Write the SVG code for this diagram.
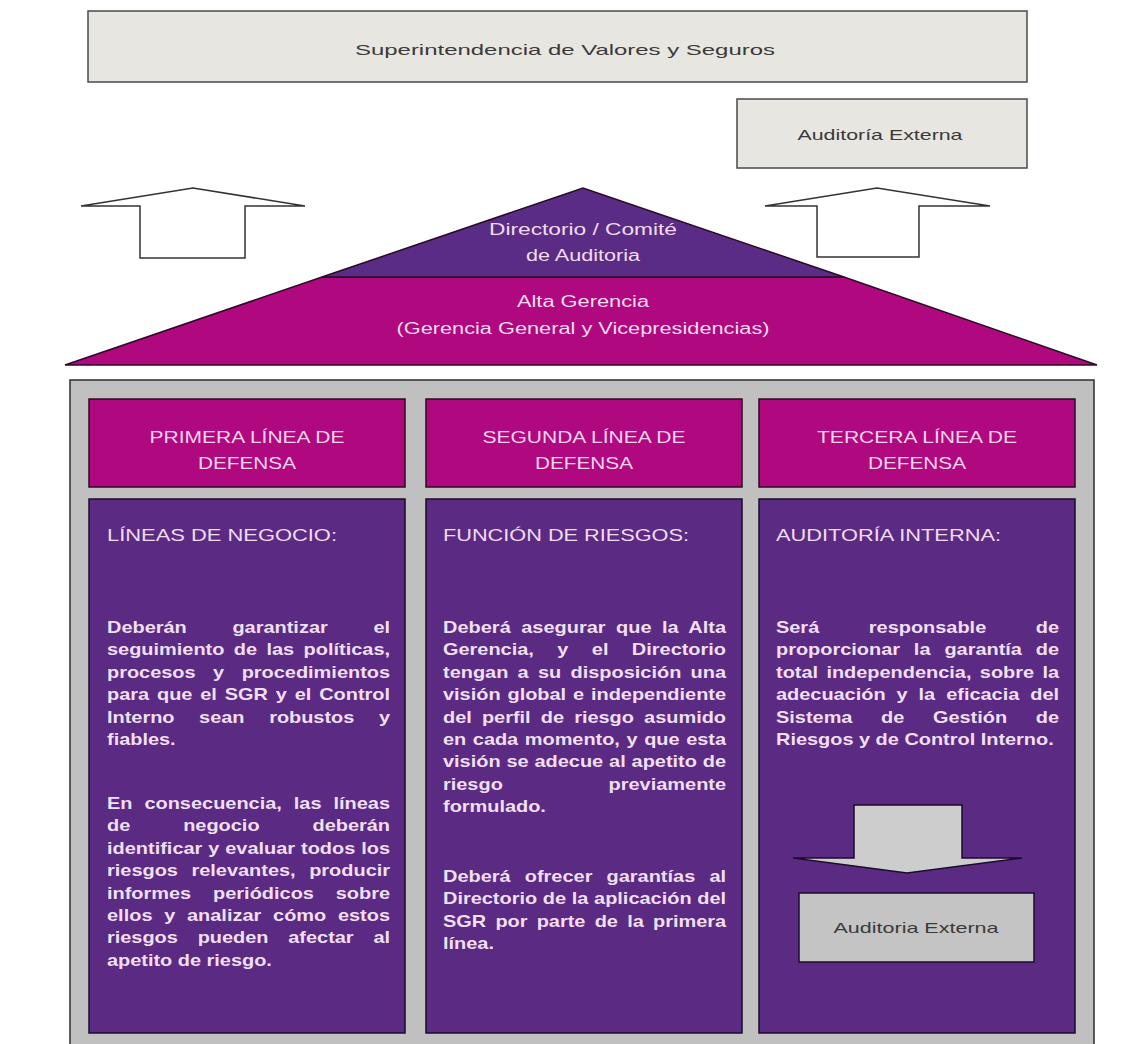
<svg xmlns="http://www.w3.org/2000/svg" width="1133" height="1044" viewBox="0 0 1133 1044">
  <style>
    text { font-family: "Liberation Sans", Arial, sans-serif; }
    .box-light { fill: #e8e6e0; stroke: #4a4a4a; stroke-width: 1.5; }
    .arrow-out { fill: #ffffff; stroke: #333333; stroke-width: 1.5; stroke-linejoin: miter; }
    .dark { fill: #3a3a3a; font-size: 15px; }
    .pyr { fill: #f3dcf0; font-size: 16px; }
    .head { fill: #b0087e; stroke: #2a0a26; stroke-width: 1.5; }
    .body { fill: #5b2b84; stroke: #1c0b2c; stroke-width: 1.5; }
    .head-t { fill: #f7d4ee; font-size: 16.5px; text-anchor: middle; }
    .sub-t { fill: #f1dcf2; font-size: 16.5px; }
    .txt { fill: #f1dff3; font-size: 16.5px; font-weight: bold; }
  </style>

  <rect width="1133" height="1044" fill="#ffffff"/>

  <!-- Regulator box -->
  <g id="superintendencia">
    <rect class="box-light" x="88" y="11" width="939" height="71"/>
    <text class="dark" x="565" y="55" font-size="16.5" text-anchor="middle" textLength="420" lengthAdjust="spacingAndGlyphs">Superintendencia de Valores y Seguros</text>
  </g>

  <!-- External audit box (top) -->
  <g id="auditoria-externa-top">
    <rect class="box-light" x="737" y="99" width="290" height="69"/>
    <text class="dark" x="880" y="140" text-anchor="middle" textLength="165" lengthAdjust="spacingAndGlyphs">Auditoría Externa</text>
  </g>

  <!-- Upward arrows -->
  <g id="connectors">
    <polygon class="arrow-out" points="81,206 193,188 305,206 245,206 245,258 140,258 140,206"/>
    <polygon class="arrow-out" points="765,206 877,188 990,206 919,206 919,257 817,257 817,206"/>
  </g>

  <!-- Governance pyramid -->
  <g id="piramide">
    <polygon points="65,365 322,277 844,277 1097,365" fill="#b0087e" stroke="#2a0a26" stroke-width="1.5"/>
    <polygon points="322,277 583,188 844,277" fill="#5a2c85" stroke="#2a0a26" stroke-width="1.5"/>
    <text class="pyr" x="583" y="235" text-anchor="middle" textLength="188" lengthAdjust="spacingAndGlyphs">Directorio / Comité</text>
    <text class="pyr" x="583" y="261" text-anchor="middle" textLength="114" lengthAdjust="spacingAndGlyphs">de Auditoria</text>
    <text class="pyr" x="583" y="307" text-anchor="middle" textLength="132" lengthAdjust="spacingAndGlyphs">Alta Gerencia</text>
    <text class="pyr" x="583" y="334" text-anchor="middle" textLength="373" lengthAdjust="spacingAndGlyphs">(Gerencia General y Vicepresidencias)</text>
  </g>

  <!-- Container for the three lines of defence -->
  <rect id="contenedor" x="70" y="380" width="1024" height="680" fill="#c0c0c0" stroke="#2e2e2e" stroke-width="1.5"/>

  <!-- First line -->
  <g id="primera-linea">
    <rect class="head" x="89" y="399" width="316" height="88"/>
    <text class="head-t" x="247" y="443" textLength="195" lengthAdjust="spacingAndGlyphs">PRIMERA LÍNEA DE</text>
    <text class="head-t" x="247" y="469" textLength="98" lengthAdjust="spacingAndGlyphs">DEFENSA</text>
    <rect class="body" x="89" y="499" width="316" height="534"/>
    <text class="sub-t" x="107" y="541" textLength="230" lengthAdjust="spacingAndGlyphs">LÍNEAS DE NEGOCIO:</text>
    <g transform="translate(107 0) scale(1.208 1)">
      <text class="txt" y="633" word-spacing="33.2" textLength="234.3" lengthAdjust="spacing">Deberán garantizar el</text>
      <text class="txt" y="655.4" word-spacing="3.2" textLength="234.3" lengthAdjust="spacing">seguimiento de las políticas,</text>
      <text class="txt" y="677.8" word-spacing="9.9" textLength="234.3" lengthAdjust="spacing">procesos y procedimientos</text>
      <text class="txt" y="700.2" word-spacing="1.9" textLength="234.3" lengthAdjust="spacing">para que el SGR y el Control</text>
      <text class="txt" y="722.6" word-spacing="15.8" textLength="234.3" lengthAdjust="spacing">Interno sean robustos y</text>
      <text class="txt" y="745">fiables.</text>
      <text class="txt" y="809" word-spacing="5.3" textLength="234.3" lengthAdjust="spacing">En consecuencia, las líneas</text>
      <text class="txt" y="831.4" word-spacing="39.2" textLength="234.3" lengthAdjust="spacing">de negocio deberán</text>
      <text class="txt" y="853.8" word-spacing="0.3" textLength="234.3" lengthAdjust="spacing">identificar y evaluar todos los</text>
      <text class="txt" y="876.2" word-spacing="6.6" textLength="234.3" lengthAdjust="spacing">riesgos relevantes, producir</text>
      <text class="txt" y="898.6" word-spacing="13.5" textLength="234.3" lengthAdjust="spacing">informes periódicos sobre</text>
      <text class="txt" y="921" word-spacing="5.1" textLength="234.3" lengthAdjust="spacing">ellos y analizar cómo estos</text>
      <text class="txt" y="943.4" word-spacing="11.8" textLength="234.3" lengthAdjust="spacing">riesgos pueden afectar al</text>
      <text class="txt" y="965.8">apetito de riesgo.</text>
    </g>
  </g>

  <!-- Second line -->
  <g id="segunda-linea">
    <rect class="head" x="426" y="399" width="316" height="88"/>
    <text class="head-t" x="584" y="443" textLength="203" lengthAdjust="spacingAndGlyphs">SEGUNDA LÍNEA DE</text>
    <text class="head-t" x="584" y="469" textLength="98" lengthAdjust="spacingAndGlyphs">DEFENSA</text>
    <rect class="body" x="426" y="499" width="316" height="534"/>
    <text class="sub-t" x="443" y="541" textLength="246" lengthAdjust="spacingAndGlyphs">FUNCIÓN DE RIESGOS:</text>
    <g transform="translate(443 0) scale(1.208 1)">
      <text class="txt" y="633" word-spacing="4" textLength="234.3" lengthAdjust="spacing">Deberá asegurar que la Alta</text>
      <text class="txt" y="655.4" word-spacing="14.8" textLength="234.3" lengthAdjust="spacing">Gerencia, y el Directorio</text>
      <text class="txt" y="677.8" word-spacing="3.1" textLength="234.3" lengthAdjust="spacing">tengan a su disposición una</text>
      <text class="txt" y="700.2" word-spacing="1.1" textLength="234.3" lengthAdjust="spacing">visión global e independiente</text>
      <text class="txt" y="722.6" word-spacing="3.8" textLength="234.3" lengthAdjust="spacing">del perfil de riesgo asumido</text>
      <text class="txt" y="745" word-spacing="0.9" textLength="234.3" lengthAdjust="spacing">en cada momento, y que esta</text>
      <text class="txt" y="767.4" word-spacing="0.3" textLength="234.3" lengthAdjust="spacing">visión se adecue al apetito de</text>
      <text class="txt" y="789.8" word-spacing="83" textLength="234.3" lengthAdjust="spacing">riesgo previamente</text>
      <text class="txt" y="812.2">formulado.</text>
      <text class="txt" y="882" word-spacing="7.1" textLength="234.3" lengthAdjust="spacing">Deberá ofrecer garantías al</text>
      <text class="txt" y="904.4" word-spacing="0.1" textLength="234.3" lengthAdjust="spacing">Directorio de la aplicación del</text>
      <text class="txt" y="926.8" word-spacing="3.1" textLength="234.3" lengthAdjust="spacing">SGR por parte de la primera</text>
      <text class="txt" y="949.2">línea.</text>
    </g>
  </g>

  <!-- Third line -->
  <g id="tercera-linea">
    <rect class="head" x="759" y="399" width="316" height="88"/>
    <text class="head-t" x="917" y="443" textLength="200" lengthAdjust="spacingAndGlyphs">TERCERA LÍNEA DE</text>
    <text class="head-t" x="917" y="469" textLength="98" lengthAdjust="spacingAndGlyphs">DEFENSA</text>
    <rect class="body" x="759" y="499" width="316" height="534"/>
    <text class="sub-t" x="776" y="541" textLength="225" lengthAdjust="spacingAndGlyphs">AUDITORÍA INTERNA:</text>
    <g transform="translate(776 0) scale(1.208 1)">
      <text class="txt" y="633" word-spacing="36.4" textLength="234.3" lengthAdjust="spacing">Será responsable de</text>
      <text class="txt" y="655.4" word-spacing="6.9" textLength="234.3" lengthAdjust="spacing">proporcionar la garantía de</text>
      <text class="txt" y="677.8" word-spacing="2.3" textLength="234.3" lengthAdjust="spacing">total independencia, sobre la</text>
      <text class="txt" y="700.2" word-spacing="4.5" textLength="234.3" lengthAdjust="spacing">adecuación y la eficacia del</text>
      <text class="txt" y="722.6" word-spacing="19.1" textLength="234.3" lengthAdjust="spacing">Sistema de Gestión de</text>
      <text class="txt" y="745">Riesgos y de Control Interno.</text>
    </g>
  </g>

  <!-- Downward arrow inside third line -->
  <g id="flecha-abajo">
    <polygon points="854,805 962,805 962,858 1022,858 907,873 793,858 854,858" fill="#cdcdcd" stroke="#1c0b2c" stroke-width="1.5"/>
  </g>

  <!-- External audit box (bottom) -->
  <g id="auditoria-externa-bottom">
    <rect x="799" y="893" width="235" height="69" fill="#c4c4c4" stroke="#1c0b2c" stroke-width="1.5"/>
    <text class="dark" x="916" y="933" text-anchor="middle" textLength="165" lengthAdjust="spacingAndGlyphs">Auditoria Externa</text>
  </g>
</svg>
